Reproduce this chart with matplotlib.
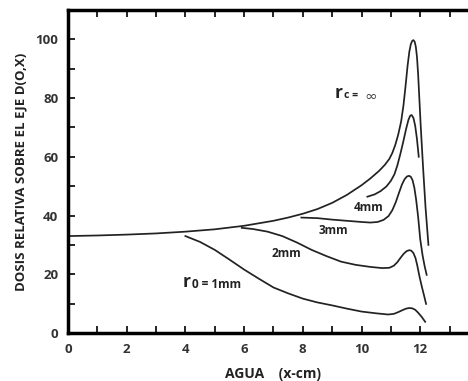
import matplotlib
matplotlib.use("Agg")
import matplotlib.pyplot as plt
from matplotlib.ticker import MultipleLocator

plt.rcParams['font.family'] = ['Open Sans', 'DejaVu Sans']

# r_c = infinity (open field)
x_inf = [0, 1, 2, 3, 4, 5, 6, 7, 7.5, 8, 8.5, 9, 9.5, 10, 10.3, 10.6, 10.8, 10.95,
         11.05, 11.15, 11.25, 11.35, 11.43, 11.5, 11.57, 11.63, 11.68, 11.73,
         11.77, 11.81, 11.85, 11.89, 11.93, 11.97, 12.02, 12.1, 12.18, 12.28]
y_inf = [33, 33.2, 33.5, 33.9, 34.5, 35.3, 36.5, 38.2, 39.3, 40.6, 42.2, 44.3,
         47, 50.3, 52.6, 55.2, 57.3, 59.3, 61.3, 64, 67.5, 72, 77.5, 84, 91, 95.8,
         98.3, 99.5, 99.7, 99.2, 97.5, 94, 88, 80, 70, 56, 43, 30]

# 4 mm
x_4 = [10.2, 10.45, 10.65, 10.85, 11.0, 11.12, 11.22, 11.32, 11.42, 11.52, 11.6,
       11.66, 11.71, 11.77, 11.83, 11.89, 11.95]
y_4 = [46.4, 47.2, 48.3, 49.9, 51.8, 54, 57, 60.8, 65, 69.5, 72.6, 74, 74.2, 73.2,
       70.5, 66, 60]

# 3 mm
x_3 = [7.95, 8.5, 9, 9.5, 10, 10.3, 10.55, 10.75, 10.92, 11.05, 11.17, 11.28,
       11.38, 11.47, 11.55, 11.62, 11.68, 11.74, 11.8, 11.86, 11.93, 12.0, 12.08,
       12.15, 12.22]
y_3 = [39.3, 39.1, 38.6, 38.2, 37.8, 37.6, 37.8, 38.5, 39.8, 41.8, 44.6, 47.8,
       50.6, 52.4, 53.3, 53.5, 53.2, 52, 49.5, 45.5, 39.5, 32, 26.5, 22.8, 19.8]

# 2 mm
x_2 = [5.92, 6.3, 6.8, 7.3, 7.8, 8.3, 8.8, 9.3, 9.8, 10.3, 10.7, 10.95, 11.1,
       11.22, 11.33, 11.44, 11.54, 11.63, 11.7, 11.77, 11.84, 11.9, 11.97, 12.05,
       12.13, 12.2]
y_2 = [35.8, 35.4, 34.5, 33, 30.8, 28.3, 26.2, 24.3, 23.2, 22.5, 22.1, 22.2, 22.9,
       24.1, 25.6, 27, 27.9, 28.2, 28, 27.2, 25.5, 23, 19.5, 16, 12.8, 9.9]

# 1 mm
x_1 = [4.0, 4.5, 5.0, 5.5, 6.0, 6.5, 7.0, 7.5, 8.0, 8.5, 9.0, 9.5, 10.0, 10.5,
       10.9, 11.1, 11.25, 11.4, 11.52, 11.63, 11.73, 11.83, 11.93, 12.05, 12.17]
y_1 = [33, 31, 28.3, 25, 21.6, 18.5, 15.5, 13.5, 11.7, 10.4, 9.4, 8.3, 7.3, 6.7,
       6.3, 6.5, 7.1, 7.8, 8.3, 8.5, 8.4, 7.9, 6.9, 5.5, 3.8]

x_tick_labels = [0, 2, 4, 6, 8, 10, 12]

fig = plt.figure(figsize=(4.68, 3.81), dpi=100)
ax = fig.add_axes([0.1453, 0.126, 0.878, 0.848])

lc = '#222222'
for xs, ys in [(x_inf, y_inf), (x_4, y_4), (x_3, y_3), (x_2, y_2), (x_1, y_1)]:
    ax.plot(xs, ys, color=lc, lw=1.25, solid_joinstyle='round')

ax.set_xlim(0, 14)
ax.set_ylim(0, 110)
ax.set_xticks(x_tick_labels)
ax.xaxis.set_minor_locator(MultipleLocator(1))
ax.yaxis.set_major_locator(MultipleLocator(20))
ax.yaxis.set_minor_locator(MultipleLocator(10))
ax.tick_params(which='both', direction='in', top=True, length=5, width=1.2,
               labelsize=9.5, pad=7)
for lab in ax.get_xticklabels() + ax.get_yticklabels():
    lab.set_fontweight('bold')
    lab.set_color('#333333')
for s in ax.spines.values():
    s.set_linewidth(2.5)

ax.set_xlabel('AGUA    (x-cm)', fontsize=10, fontweight='bold', color='#222222', labelpad=8)
ax.set_ylabel('DOSIS RELATIVA SOBRE EL EJE D(O,X)', fontsize=9.5, fontweight='bold',
              color='#222222', labelpad=6)

# curve labels
ax.text(9.1, 81.8, 'r', fontsize=12.5, fontweight='bold', va='center', ha='left', color=lc)
ax.text(9.4, 80.8, 'c =', fontsize=7.5, fontweight='bold', va='center',
        ha='left', color=lc)
ax.text(10.1, 80.6, '\u221e', fontsize=11, va='center', ha='left', color='#444444',
        family='DejaVu Sans')
ax.text(10.23, 42.8, '4mm', fontsize=8.5, fontweight='bold', ha='center', va='center', color=lc)
ax.text(9.03, 34.8, '3mm', fontsize=8.5, fontweight='bold', ha='center', va='center', color=lc)
ax.text(7.43, 27.2, '2mm', fontsize=8.5, fontweight='bold', ha='center', va='center', color=lc)
ax.text(3.92, 17.4, 'r', fontsize=12.5, fontweight='bold', va='center', ha='left', color=lc)
ax.text(4.22, 16.6, '0 = 1mm', fontsize=8.5, fontweight='bold', va='center',
        ha='left', color=lc)

fig.savefig('out.png', dpi=100)
